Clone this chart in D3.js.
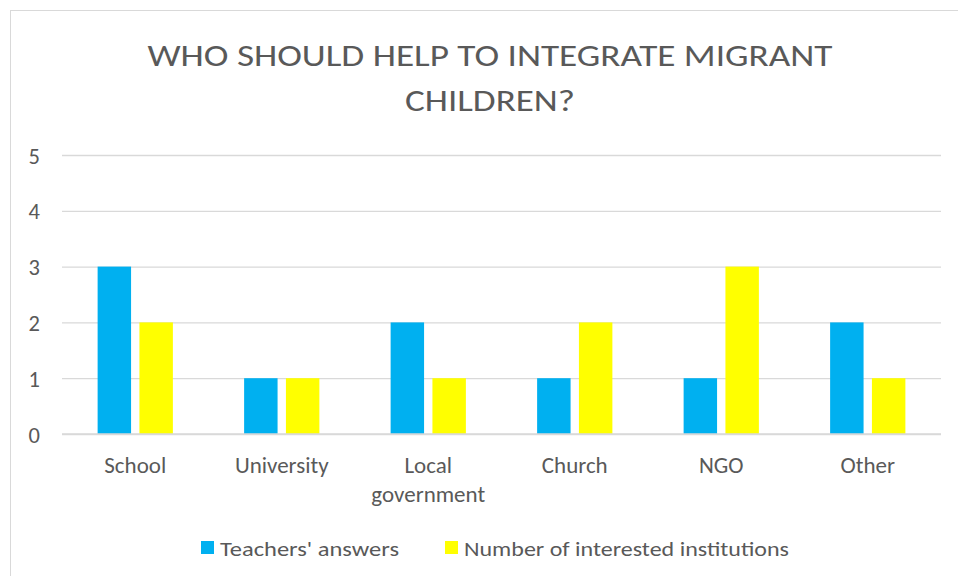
<!DOCTYPE html>
<html><head><meta charset="utf-8">
<script src="https://cdn.jsdelivr.net/npm/d3@7"></script>
<style>html,body{margin:0;padding:0;background:#fff;overflow:hidden}</style>
</head><body>
<svg id="c" width="958" height="576"></svg>
<script>
const categories = ["School", "University", "Local government", "Church", "NGO", "Other"];
const categoryLines = [["School"], ["University"], ["Local", "government"], ["Church"], ["NGO"], ["Other"]];
const seriesNames = ["Teachers' answers", "Number of interested institutions"];
const teachers = [3, 1, 2, 1, 1, 2];
const institutions = [2, 1, 1, 2, 3, 1];
const yTicks = [0, 1, 2, 3, 4, 5];
const titleLines = ["WHO SHOULD HELP TO INTEGRATE MIGRANT", "CHILDREN?"];
const colors = ["#00B0F0", "#FFFF00"];

const FONT = "Carlito, Calibri, Lato, 'Open Sans', sans-serif";
const TXT = "#595959";
const svg = d3.select("#c");

svg.append("rect").attr("x", 10.5).attr("y", 10.5).attr("width", 970).attr("height", 600)
  .attr("fill", "#fff").attr("stroke", "#d9d9d9").attr("stroke-width", 1);

const x0 = d3.scaleBand().domain(categories).range([62, 941]).paddingInner(0).paddingOuter(0);
const x1 = d3.scaleBand().domain(seriesNames).range([0, x0.bandwidth()]).paddingInner(0.2).paddingOuter(0.852);
const y = d3.scaleLinear().domain([0, 5]).range([434, 155]);

function fit(sel, target) {
  const w = sel.node().getComputedTextLength();
  if (Math.abs(w - target) > 2) sel.attr("textLength", target).attr("lengthAdjust", "spacingAndGlyphs");
}

// gridlines
const yAxis = d3.axisLeft(y).tickValues(yTicks).tickSize(-(941 - 62)).tickFormat(d3.format("d")).tickPadding(22);
const ga = svg.append("g").attr("transform", "translate(62,0)").call(yAxis);
ga.select(".domain").remove();
ga.selectAll(".tick line").attr("stroke", "#d9d9d9").attr("stroke-width", 1.3);
ga.selectAll(".tick text").attr("fill", TXT).style("font-family", FONT).style("font-size", "22.5px").attr("dy", "0.36em");

// bars
const data = categories.map((c, i) => ({ c, vals: [teachers[i], institutions[i]] }));
const groups = svg.append("g").selectAll("g").data(data).join("g")
  .attr("transform", d => `translate(${x0(d.c)},0)`);
groups.selectAll("rect").data(d => d.vals.map((v, j) => ({ s: seriesNames[j], v, j })))
  .join("rect")
  .attr("x", d => x1(d.s)).attr("width", x1.bandwidth())
  .attr("y", d => y(d.v)).attr("height", d => y(0) - y(d.v))
  .attr("fill", d => colors[d.j]);

// redraw baseline over bars
svg.append("line").attr("x1", 62).attr("x2", 941).attr("y1", y(0)).attr("y2", y(0))
  .attr("stroke", "#d9d9d9").attr("stroke-width", 1.3);

// category labels
const xl = svg.append("g");
categories.forEach((c, i) => {
  categoryLines[i].forEach((ln, k) => {
    xl.append("text").attr("x", x0(c) + x0.bandwidth() / 2).attr("y", 472.5 + k * 29)
      .attr("text-anchor", "middle").attr("fill", TXT)
      .style("font-family", FONT).style("font-size", "23px").text(ln);
  });
});

// title
titleLines.forEach((t, k) => {
  const tt = svg.append("text").attr("x", 490).attr("y", 66 + k * 45).attr("text-anchor", "middle")
    .attr("fill", TXT).style("font-family", FONT).style("font-size", "31px").style("font-weight", 300).text(t);
  fit(tt, k === 0 ? 685 : 170);
});

// legend
const legX = [201, 445];
const legW = [179, 325];
seriesNames.forEach((s, j) => {
  svg.append("rect").attr("x", legX[j]).attr("y", 541).attr("width", 13).attr("height", 13).attr("fill", colors[j]);
  const t = svg.append("text").attr("x", legX[j] + 19).attr("y", 556).attr("fill", TXT)
    .style("font-family", FONT).style("font-size", "19.5px").text(s);
  fit(t, legW[j]);
});
</script>
</body></html>
